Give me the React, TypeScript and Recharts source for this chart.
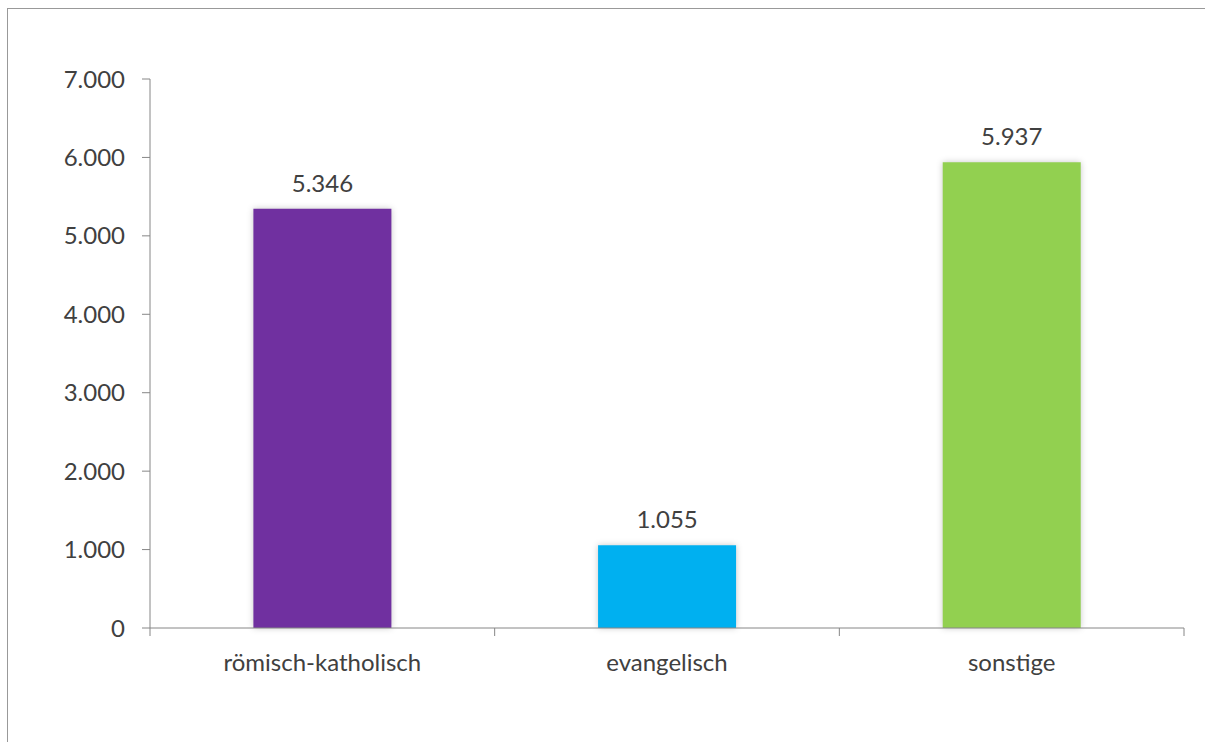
import { BarChart, Bar, XAxis, YAxis, Cell, LabelList } from "recharts";

const categories = ["römisch-katholisch", "evangelisch", "sonstige"];
const values = [5346, 1055, 5937];
const colors = ["#7030A0", "#00B0F0", "#92D050"];
const yTicks = [0, 1000, 2000, 3000, 4000, 5000, 6000, 7000];

const data = categories.map((name, i) => ({ name, value: values[i] }));

const FONT = "Lato, 'Noto Sans', sans-serif";
const TEXT = "#404040";
const AXIS = "#868686";

// 5346 -> "5.346"
function fmt(v: number) {
  return String(v).replace(/\B(?=(\d{3})+(?!\d))/g, ".");
}

function CategoryTick(props: any) {
  const { x, y, payload, index, width } = props;
  const half = width / categories.length / 2;
  return (
    <g>
      <line x1={x - half} x2={x - half} y1={y} y2={y + 8} stroke={AXIS} />
      {index === categories.length - 1 && (
        <line x1={x + half} x2={x + half} y1={y} y2={y + 8} stroke={AXIS} />
      )}
      <text x={x} y={y + 43} textAnchor="middle" fill={TEXT} fontSize={24} fontFamily={FONT}>
        {payload.value}
      </text>
    </g>
  );
}

export default function App() {
  return (
    <div style={{ position: "fixed", inset: 0, overflow: "hidden", background: "#fff" }}>
      <div
        style={{
          position: "absolute",
          left: 7,
          top: 8,
          width: 1190,
          height: 733,
          borderLeft: "1px solid #999999",
          borderTop: "1px solid #999999",
        }}
      >
        <BarChart
          width={1190}
          height={733}
          data={data}
          margin={{ top: 70, right: 14, bottom: 84, left: 82 }}
          barCategoryGap="30%"
        >
          <XAxis
            dataKey="name"
            stroke={AXIS}
            tickLine={false}
            tickSize={0}
            tickMargin={0}
            height={30}
            interval={0}
            tick={<CategoryTick />}
          />
          <YAxis
            width={60}
            domain={[0, 7000]}
            ticks={yTicks}
            interval={0}
            stroke={AXIS}
            tickSize={8}
            tickMargin={17}
            tickFormatter={fmt}
            tick={{ fill: TEXT, fontSize: 24, fontFamily: FONT }}
          />
          <Bar
            dataKey="value"
            isAnimationActive={false}
            style={{ filter: "drop-shadow(0px 0px 3px rgba(0,0,0,0.22))" }}
          >
            {data.map((d, i) => (
              <Cell key={d.name} fill={colors[i]} />
            ))}
            <LabelList
              dataKey="value"
              position="top"
              offset={17}
              formatter={(v: any) => fmt(Number(v))}
              style={{ fill: TEXT, fontSize: 24, fontFamily: FONT }}
            />
          </Bar>
        </BarChart>
      </div>
      <div
        style={{
          position: "absolute",
          left: 1198,
          top: 8,
          width: 7,
          height: 1,
          background: "#999999",
        }}
      />
    </div>
  );
}
